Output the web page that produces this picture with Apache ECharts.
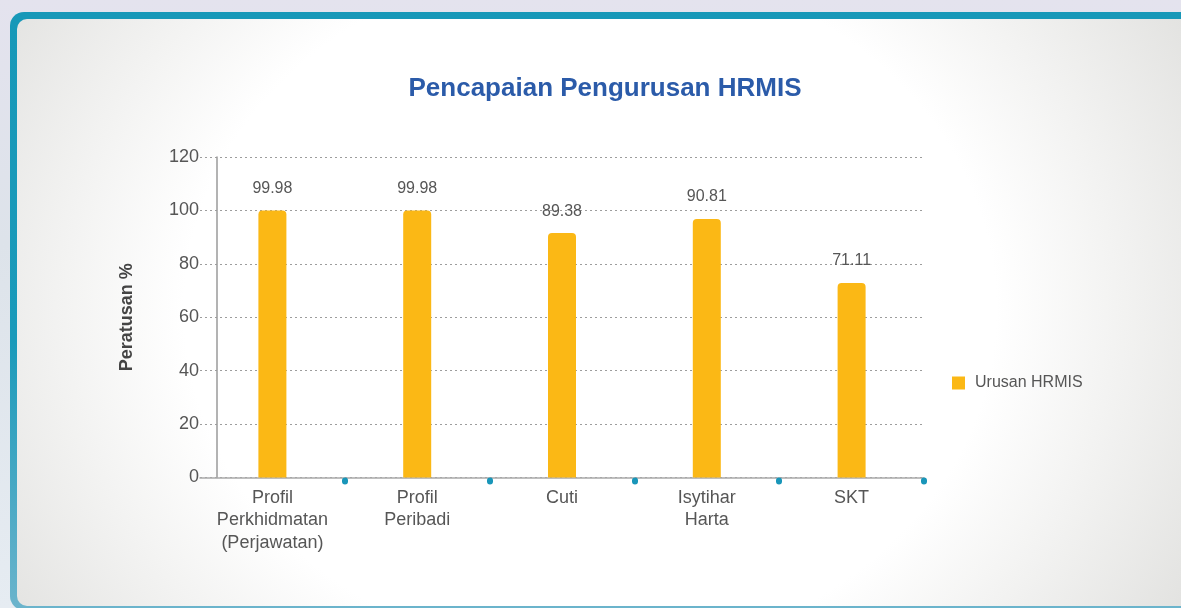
<!DOCTYPE html>
<html>
<head>
<meta charset="utf-8">
<script src="https://cdn.jsdelivr.net/npm/echarts@6/dist/echarts.min.js"></script>
<style>
  html, body { margin: 0; padding: 0; }
  body { width: 1181px; height: 608px; overflow: hidden; position: relative;
         background: linear-gradient(to bottom, #e4e3ee 0%, #dde3ea 40%, #e6ecf2 100%); font-family: "Liberation Sans", Arial, sans-serif; }
  #frame { position: absolute; left: 10px; top: 12px; width: 1190px; height: 598px; border-radius: 14px;
           background: linear-gradient(to bottom, #1798b8 0%, #1a9aba 55%, #6cb4cc 100%); }
  #panel { position: absolute; left: 7px; top: 7px; right: 0; bottom: 4px; border-radius: 10px;
           background: radial-gradient(ellipse 700px 600px at 573px 290px, #ffffff 58%, #f3f3f2 75%, #e1e1df 100%); }
  #chart { position: absolute; left: 0; top: 0; width: 1181px; height: 608px; }
</style>
</head>
<body>
<div id="frame"><div id="panel"></div></div>
<div id="chart"></div>
<script>
const titleText = 'Pencapaian Pengurusan HRMIS';
const yAxisName = 'Peratusan %';
const seriesName = 'Urusan HRMIS';
const categories = ['Profil\nPerkhidmatan\n(Perjawatan)', 'Profil\nPeribadi', 'Cuti', 'Isytihar\nHarta', 'SKT'];
const barHeights = [99.98, 99.98, 91.5, 96.8, 72.8];
const labelTexts = ['99.98', '99.98', '89.38', '90.81', '71.11'];
const yMin = 0, yMax = 120, yStep = 20;

const chart = echarts.init(document.getElementById('chart'), null, { renderer: 'canvas' });
const FONT = '"Liberation Sans", Arial, Helvetica, sans-serif';
const textGray = '#565656';

chart.setOption({
  backgroundColor: 'transparent',
  animation: false,
  textStyle: { fontFamily: FONT },
  title: {
    text: titleText,
    left: 600,
    textAlign: 'center',
    top: 71,
    textStyle: { fontFamily: FONT, fontSize: 26, fontWeight: 'bold', color: '#2b5ba9' }
  },
  legend: {
    data: [seriesName],
    left: 952,
    top: 375,
    padding: 0,
    orient: 'vertical',
    icon: 'rect',
    itemWidth: 13,
    itemHeight: 13,
    textStyle: { fontFamily: FONT, fontSize: 16, color: textGray, padding: [0, 0, 0, 5] }
  },
  grid: { left: 200, width: 724, top: 157, height: 320.5, containLabel: false },
  xAxis: [{
    type: 'category',
    data: categories,
    axisLine: { show: true, lineStyle: { color: '#a9a9a9', width: 1.5 } },
    axisTick: { show: false },
    axisLabel: { fontFamily: FONT, fontSize: 18, lineHeight: 22.5, color: textGray, margin: 9, interval: 0 },
    splitLine: { show: false }
  }, {
    type: 'category',
    data: categories,
    position: 'bottom',
    offset: 3,
    axisLine: { show: false },
    axisLabel: { show: false },
    axisTick: {
      show: true,
      length: 1,
      interval: function (index) { return index !== 0; },
      lineStyle: { color: '#1996b9', width: 6, cap: 'round' }
    },
    splitLine: { show: false }
  }],
  yAxis: {
    type: 'value',
    min: yMin,
    max: yMax,
    interval: yStep,
    offset: -17,
    name: yAxisName,
    nameLocation: 'middle',
    nameGap: 81,
    nameRotate: 90,
    nameTextStyle: { fontFamily: FONT, fontSize: 18, fontWeight: 'bold', color: '#444444' },
    axisLine: { show: true, lineStyle: { color: '#9a9a9a', width: 1.5 } },
    axisTick: { show: false },
    axisLabel: { fontFamily: FONT, fontSize: 18, color: textGray, margin: 18 },
    splitLine: { show: true, lineStyle: { color: '#9d9d9d', width: 1, type: [2, 3] } }
  },
  series: [{
    name: seriesName,
    type: 'bar',
    xAxisIndex: 0,
    data: barHeights,
    barWidth: 28,
    itemStyle: { color: '#fbb815', borderRadius: [4, 4, 0, 0] },
    label: {
      show: true,
      position: 'top',
      distance: 14,
      fontFamily: FONT,
      fontSize: 16,
      color: textGray,
      formatter: function (p) { return labelTexts[p.dataIndex]; }
    }
  }]
});
</script>
</body>
</html>
